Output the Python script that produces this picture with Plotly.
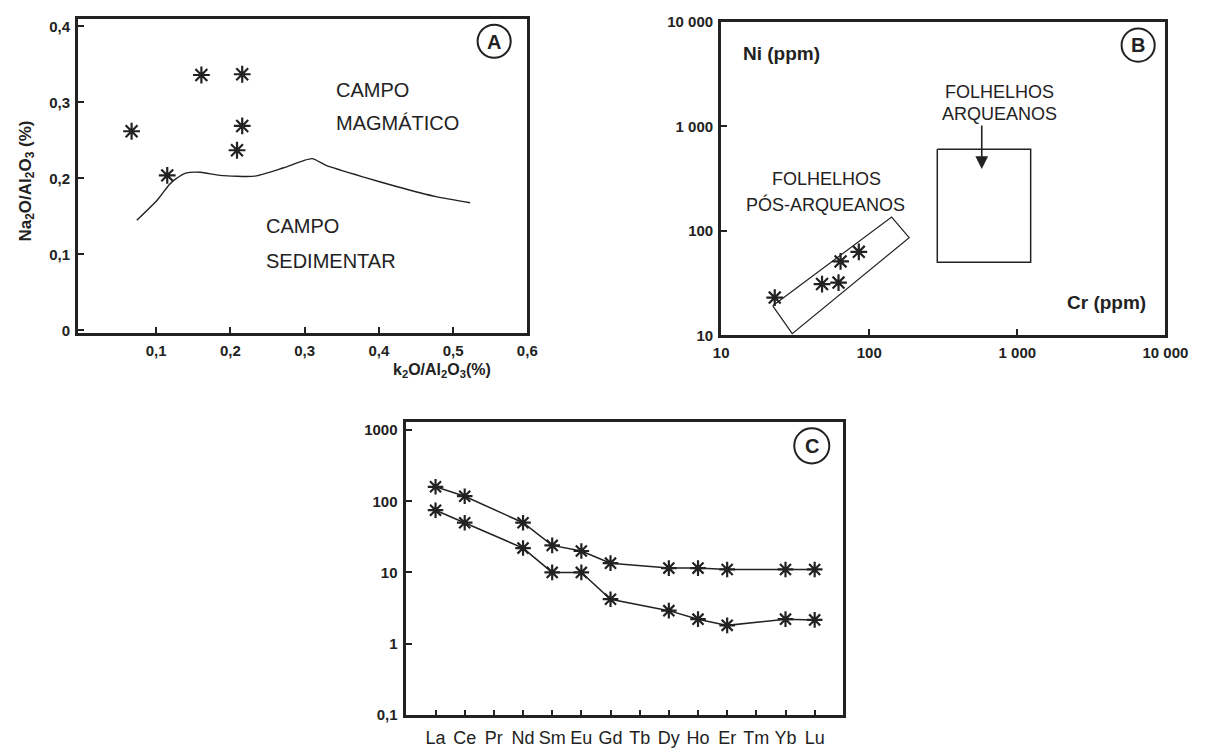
import math
import plotly.graph_objects as go

W, H = 1205, 749
FONT = "Liberation Sans, Arial, sans-serif"
INK = "#222222"

# ---------------- Panel A data ----------------
a_k2o = [0.067, 0.161, 0.216, 0.216, 0.209, 0.115]
a_na2o = [0.262, 0.336, 0.337, 0.269, 0.237, 0.204]
a_curve_x = [0.074, 0.102, 0.118, 0.126, 0.140, 0.160, 0.186, 0.233, 0.272, 0.310, 0.329, 0.382, 0.425, 0.477, 0.523]
a_curve_y = [0.145, 0.172, 0.192, 0.199, 0.207, 0.208, 0.204, 0.203, 0.214, 0.226, 0.217, 0.201, 0.189, 0.176, 0.168]
a_xticks = [0.1, 0.2, 0.3, 0.4, 0.5, 0.6]
a_xticktext = ["0,1", "0,2", "0,3", "0,4", "0,5", "0,6"]
a_yticks = [0, 0.1, 0.2, 0.3, 0.4]
a_yticktext = ["0", "0,1", "0,2", "0,3", "0,4"]

# ---------------- Panel B data ----------------
b_cr = [23, 48, 62, 64, 85]
b_ni = [23, 31, 32, 51, 63]
b_post_cr = [22.3, 30.2, 186, 141.6, 22.3]
b_post_ni = [19.2, 10.4, 86, 135.5, 19.2]
b_arch_cr = [288, 1230, 1230, 288, 288]
b_arch_ni = [603, 603, 50, 50, 603]
b_arrow_cr = 575
b_arrow_ni_from = 1050
b_arrow_ni_to = 390
b_ticks = [10, 100, 1000, 10000]
b_ticktext = ["10", "100", "1 000", "10 000"]

# ---------------- Panel C data ----------------
ree = ["La", "Ce", "Pr", "Nd", "Sm", "Eu", "Gd", "Tb", "Dy", "Ho", "Er", "Tm", "Yb", "Lu"]
c_upper = [160, 118, None, 50, 24, 20, 13.5, None, 11.5, 11.5, 11, None, 11, 11]
c_lower = [75, 50, None, 22, 10, 10, 4.2, None, 2.9, 2.2, 1.8, None, 2.2, 2.15]
c_yticks = [0.1, 1, 10, 100, 1000]
c_yticktext = ["0,1", "1", "10", "100", "1000"]


def px(x):
    return x / W


def py(y):
    return 1 - y / H


star = dict(symbol="asterisk-open", size=14, line=dict(width=2.2, color=INK), color=INK)

fig = go.Figure()

# Panel A
fig.add_trace(go.Scatter(x=a_curve_x, y=a_curve_y, mode="lines",
                         line=dict(color=INK, width=1.4, shape="spline", smoothing=0.6),
                         xaxis="x", yaxis="y", showlegend=False, hoverinfo="skip"))
fig.add_trace(go.Scatter(x=a_k2o, y=a_na2o, mode="markers", marker=star,
                         xaxis="x", yaxis="y", showlegend=False))

# Panel B
fig.add_trace(go.Scatter(x=b_post_cr, y=b_post_ni, mode="lines",
                         line=dict(color=INK, width=1.2),
                         xaxis="x2", yaxis="y2", showlegend=False, hoverinfo="skip"))
fig.add_trace(go.Scatter(x=b_arch_cr, y=b_arch_ni, mode="lines",
                         line=dict(color=INK, width=1.5),
                         xaxis="x2", yaxis="y2", showlegend=False, hoverinfo="skip"))
fig.add_trace(go.Scatter(x=b_cr, y=b_ni, mode="markers", marker=star,
                         xaxis="x2", yaxis="y2", showlegend=False))

# Panel C
for series in (c_upper, c_lower):
    fig.add_trace(go.Scatter(x=ree, y=series, mode="lines+markers", connectgaps=True,
                             line=dict(color=INK, width=1.5),
                             marker=dict(symbol="asterisk-open", size=13,
                                         line=dict(width=2.2, color=INK), color=INK),
                             xaxis="x3", yaxis="y3", showlegend=False))

axis_common = dict(showline=True, linewidth=3, linecolor=INK, mirror=True,
                   ticks="inside", ticklen=6, tickwidth=2, tickcolor=INK,
                   showgrid=False, zeroline=False, ticklabelstandoff=2,
                   tickfont=dict(family=FONT, size=15, color=INK, weight="bold"))

fig.update_layout(
    width=W, height=H, autosize=False,
    margin=dict(l=0, r=0, t=0, b=0),
    paper_bgcolor="white", plot_bgcolor="white",
    font=dict(family=FONT, color=INK),
    xaxis=dict(domain=[px(72), px(533)], range=[-0.005, 0.6], anchor="y",
               tickvals=a_xticks, ticktext=a_xticktext, **axis_common),
    yaxis=dict(domain=[py(332), py(10)], range=[-0.004, 0.41], anchor="x",
               tickvals=a_yticks, ticktext=a_yticktext, **axis_common),
    xaxis2=dict(domain=[px(732), px(1188)], type="log", range=[1, 4], anchor="y2",
                tickvals=b_ticks, ticktext=b_ticktext, **axis_common),
    yaxis2=dict(domain=[py(334), py(13)], type="log", range=[1, 4], anchor="x2",
                tickvals=b_ticks, ticktext=b_ticktext, **axis_common),
    xaxis3=dict(domain=[px(408), px(857)], type="category", categoryorder="array",
                categoryarray=ree, range=[-1.03, 13.97], anchor="y3",
                tickvals=ree, ticktext=ree,
                **{**axis_common, "tickfont": dict(family=FONT, size=18, color=INK),
                   "ticklen": 5, "ticklabelstandoff": 5}),
    yaxis3=dict(domain=[py(722), py(423)], type="log", range=[-1, 3.11], anchor="x3",
                tickvals=c_yticks, ticktext=c_yticktext, **axis_common),
)

ann = []


def label(text, x, y, size, bold=False, xanchor="center", angle=0):
    ann.append(dict(text=text, x=px(x), y=py(y), xref="paper", yref="paper",
                    xanchor=xanchor, yanchor="middle", showarrow=False, textangle=angle,
                    font=dict(family=FONT, size=size, color=INK,
                              weight="bold" if bold else "normal")))


# Panel A labels
label("CAMPO", 335, 83, 20, xanchor="left")
label("MAGMÁTICO", 335, 117, 20, xanchor="left")
label("CAMPO", 263, 222, 20, xanchor="left")
label("SEDIMENTAR", 263, 258, 20, xanchor="left")
label("Na<sub>2</sub>O/Al<sub>2</sub>O<sub>3</sub> (%)", 19, 176, 17, bold=True, angle=-90)
label("k<sub>2</sub>O/Al<sub>2</sub>O<sub>3</sub>(%)", 445, 370, 16, bold=True)
label("A", 499, 34, 20, bold=True)

# Panel B labels
label("Ni (ppm)", 794, 46, 19, bold=True)
label("Cr (ppm)", 1128, 300, 19, bold=True)
label("FOLHELHOS", 1018, 85, 18)
label("ARQUEANOS", 1018, 107, 18)
label("FOLHELHOS", 840, 174, 18)
label("PÓS-ARQUEANOS", 839, 200, 18)
label("B", 1160, 37, 20, bold=True)

# Panel C labels
label("C", 825, 447, 20, bold=True)

# Arrow in panel B
ann.append(dict(x=math.log10(b_arrow_cr), y=math.log10(b_arrow_ni_to), xref="x2", yref="y2",
                ax=math.log10(b_arrow_cr), ay=math.log10(b_arrow_ni_from), axref="x2", ayref="y2",
                text="", showarrow=True, arrowhead=2, arrowsize=1.6, arrowwidth=1.6,
                arrowcolor=INK))

fig.update_layout(annotations=ann)

# Circles round panel letters
shapes = []
for cx, cy, r in [(499, 33, 17), (1160, 37, 17), (825, 447, 18)]:
    shapes.append(dict(type="circle", xref="paper", yref="paper",
                       x0=px(cx - r), x1=px(cx + r), y0=py(cy + r), y1=py(cy - r),
                       line=dict(color=INK, width=2)))
fig.update_layout(shapes=shapes)

fig.write_html("out.html")
